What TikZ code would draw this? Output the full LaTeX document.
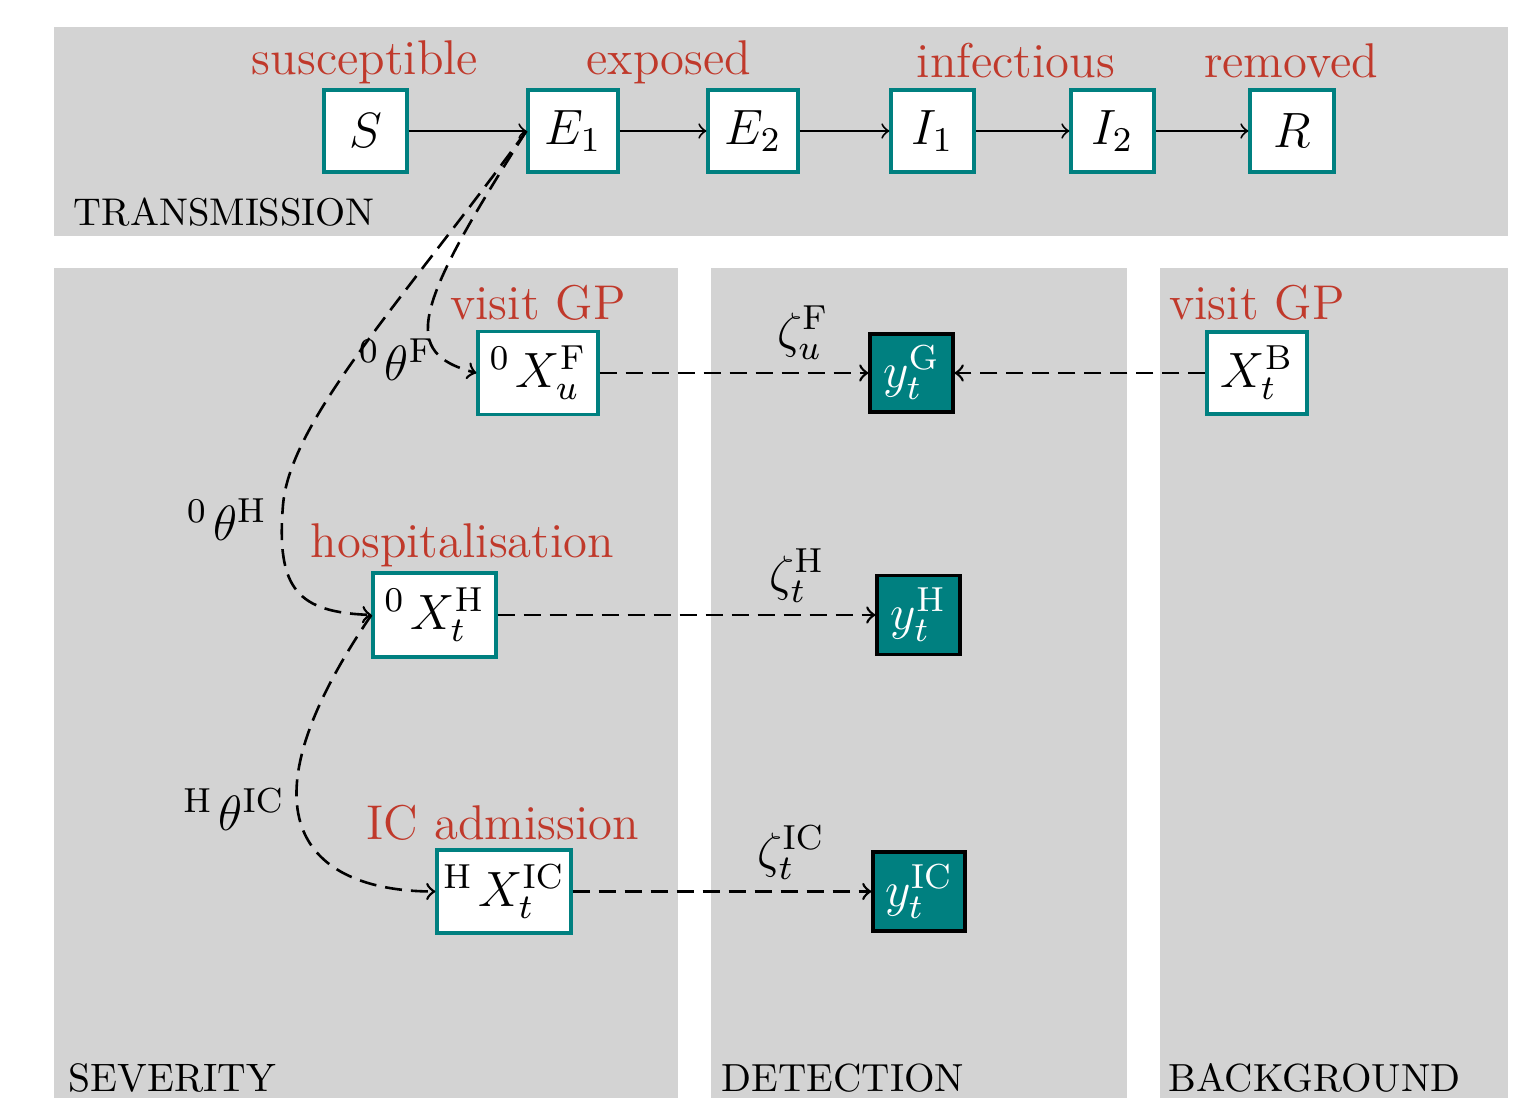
\RequirePackage{fix-cm}
\documentclass[tikz,border=0pt]{standalone}

\definecolor{panelgray}{RGB}{211,211,211}
\definecolor{stagered}{RGB}{192,57,43}
\definecolor{boxteal}{RGB}{0,128,128}

\newcommand\diagmath{\fontsize{12.4}{15}\selectfont}
\newcommand\presp{\mkern2mu}

\tikzset{
  compartment/.style={draw=boxteal, line width=0.8pt, fill=white, inner sep=1pt,
    minimum height=20.5pt, font=\diagmath},
  obsbox/.style={draw=black, line width=0.8pt, fill=boxteal, text=white, inner sep=1pt,
    minimum height=19.75pt, font=\diagmath},
  stagelabel/.style={text=stagered, font=\fontsize{12.2}{14}\selectfont, anchor=base, inner sep=0pt},
  panellabel/.style={anchor=base west, inner sep=0pt},
  paramlabel/.style={inner sep=0pt, font=\diagmath},
  flow/.style={->, line width=0.5pt},
  obsflow/.style={->, line width=0.65pt, dash pattern=on 4.25pt off 2.25pt},
}

\begin{document}
\begin{tikzpicture}[x=0.25pt, y=-0.25pt]
\useasboundingbox (0,0) rectangle (1533,1098);

% panels
\fill[panelgray] (54,27) rectangle (1508,236);
\fill[panelgray] (54,268) rectangle (678,1098);
\fill[panelgray] (711,268) rectangle (1127,1098);
\fill[panelgray] (1160,268) rectangle (1508,1098);

% panel titles
\node[panellabel, font=\fontsize{9.66}{12}\selectfont] (tTrans) at (73,226) {TRANSMISSION};
\node[panellabel, font=\fontsize{9.9}{12}\selectfont] (tSev) at (68,1092) {SEVERITY};
\node[panellabel, font=\fontsize{9.8}{12}\selectfont] (tDet) at (721,1092) {DETECTION};
\node[panellabel, font=\fontsize{9.8}{12}\selectfont] (tBack) at (1168,1092) {BACKGROUND};

% transmission compartments
\node[compartment, minimum width=20.75pt] (S)  at (365.5,131) {$S$};
\node[compartment, minimum width=22.5pt]  (E1) at (573,131)   {$E_1$};
\node[compartment, minimum width=22.5pt]  (E2) at (753,131)   {$E_2$};
\node[compartment, minimum width=20.75pt] (I1) at (932.5,131) {$I_1$};
\node[compartment, minimum width=20.75pt] (I2) at (1112.5,131) {$I_2$};
\node[compartment, minimum width=21pt]    (R)  at (1292,131)  {$R$};

\node[stagelabel] (lS) at (365,75)  {susceptible};
\node[stagelabel] (lE) at (669,75)  {exposed};
\node[stagelabel] (lI) at (1016,78) {infectious};
\node[stagelabel] (lR) at (1291,78) {removed};

\draw[flow] (S) -- (E1);
\draw[flow] (E1) -- (E2);
\draw[flow] (E2) -- (I1);
\draw[flow] (I1) -- (I2);
\draw[flow] (I2) -- (R);

% severity
\node[compartment, minimum width=30pt, minimum height=20.75pt] (XF) at (538,373)
  {${}^{0}\presp X^{\mathrm{F}}_{u}$};
\node[compartment, minimum width=30.75pt, minimum height=21pt] (XH) at (434.5,615)
  {${}^{0}\presp X^{\mathrm{H}}_{t}$};
\node[compartment, minimum width=33.5pt, minimum height=20.75pt] (XIC) at (504,891.5)
  {${}^{\mathrm{H}}\presp X^{\mathrm{IC}}_{t}$};

\node[stagelabel] (lXF)  at (538,320)   {visit GP};
\node[stagelabel] (lXH)  at (462.5,558) {hospitalisation};
\node[stagelabel] (lXIC) at (503,840)   {IC admission};

% detection
\node[obsbox, minimum width=20.75pt, minimum height=19.5pt] (yG) at (911.5,373) {$y^{\mathrm{G}}_{t}$};
\node[obsbox, minimum width=20.75pt] (yH)  at (918.5,615) {$y^{\mathrm{H}}_{t}$};
\node[obsbox, minimum width=23pt]    (yIC) at (919,891.5) {$y^{\mathrm{IC}}_{t}$};

% background
\node[compartment, minimum width=25pt] (XB) at (1257,373) {$X^{\mathrm{B}}_{t}$};
\node[stagelabel] (lXB) at (1257,320) {visit GP};

% severity transitions
\coordinate (hbend) at (283,505);
\draw[obsflow] (E1.west) .. controls +(-115,180) and +(-75,-20) .. (XF.west);
\draw[obsflow] (E1.west) .. controls +(-120,165) and +(7,-85) .. (hbend)
                        .. controls +(-7,85) and +(-73,-3) .. (XH.west);
\draw[obsflow] (XH.west) .. controls +(-150,220) and +(-110,0) .. (XIC.west);

\node[paramlabel] (thF)  at (397,360)   {${}^{0}\presp\theta^{\mathrm{F}}$};
\node[paramlabel] (thH)  at (227,520) {${}^{0}\presp\theta^{\mathrm{H}}$};
\node[paramlabel] (thIC) at (234,809.5) {${}^{\mathrm{H}}\presp\theta^{\mathrm{IC}}$};

% detection links
\draw[obsflow] (XF) -- (yG);
\draw[obsflow] (XB) -- (yG);
\draw[obsflow] (XH) -- (yH);
\draw[obsflow] (XIC) -- (yIC);

\node[paramlabel] (zF)  at (803,333)   {$\zeta^{\mathrm{F}}_{u}$};
\node[paramlabel] (zH)  at (797,575.5) {$\zeta^{\mathrm{H}}_{t}$};
\node[paramlabel] (zIC) at (791,852.5) {$\zeta^{\mathrm{IC}}_{t}$};
\end{tikzpicture}
\end{document}
